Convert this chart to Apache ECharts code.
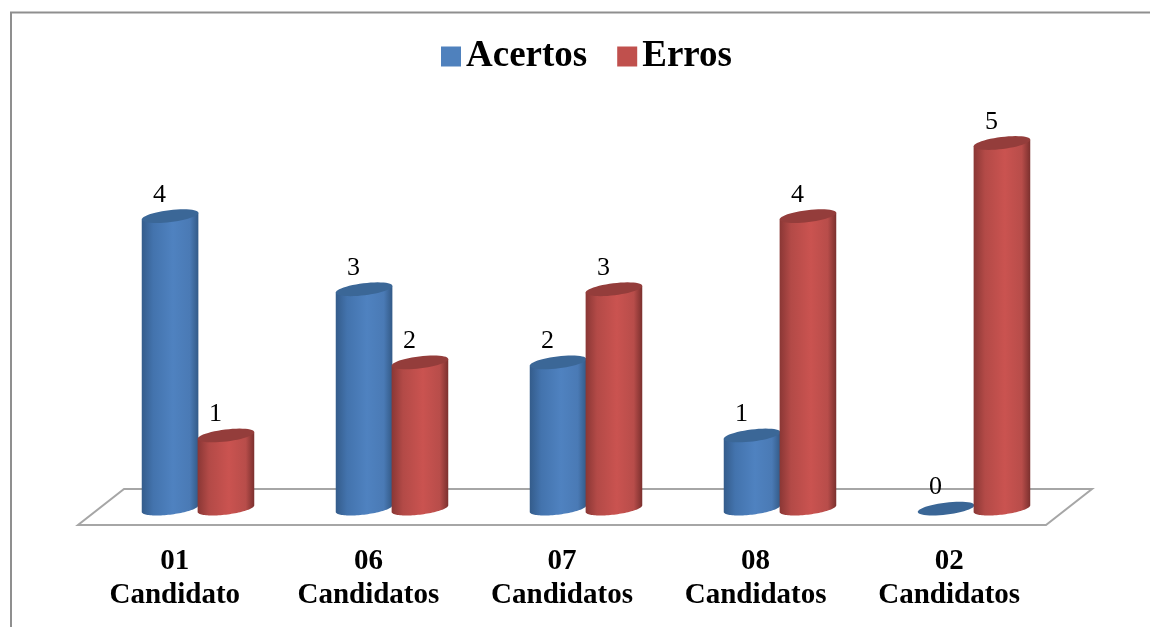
<!DOCTYPE html>
<html>
<head>
<meta charset="utf-8">
<style>html,body{margin:0;padding:0;background:#fff}#chart{width:1150px;height:627px}</style>
<script src="https://cdn.jsdelivr.net/npm/echarts@6/dist/echarts.min.js"></script>
</head>
<body>
<div id="chart"></div>
<script>
// Quiz results per group of candidates
const categories = ['01\nCandidato', '06\nCandidatos', '07\nCandidatos', '08\nCandidatos', '02\nCandidatos'];
const acertos = [4, 3, 2, 1, 0];
const erros = [1, 2, 3, 4, 5];

const SERIF = '"Liberation Serif", serif';
const FLOOR_DEPTH = [46, 36];          // horizontal and vertical shift of the back edge
const FRONT = { left: 78, right: 1046, y: 525 };
const BAR_HALF = 0.147;                // cylinder half width as a share of the band
const BAR_OFFSET = 0.144;              // cylinder centre distance from the band centre
const TILT = 7 * Math.PI / 180;        // the cap ellipses rise to the right
const MINOR_RATIO = 0.21;

const blue = {
  cap: '#3b6797', zero: '#3a6696',
  stops: ['#345c8b', '#4373ad', '#4f82c0', '#4a7ab5', '#335a87']
};
const red = {
  cap: '#943d3b',
  stops: ['#8a3735', '#b34a47', '#ca5350', '#b84d4a', '#7b302e']
};

function body(stops) {
  return new echarts.graphic.LinearGradient(0, 0, 1, 0, [
    { offset: 0, color: stops[0] },
    { offset: 0.2, color: stops[1] },
    { offset: 0.55, color: stops[2] },
    { offset: 0.85, color: stops[3] },
    { offset: 1, color: stops[4] }
  ]);
}

// Point on the tilted ellipse around (cx, cy) at parameter t
function ellipsePoint(cx, cy, a, b, t) {
  const ex = a * Math.cos(t), ey = b * Math.sin(t);
  return [cx + ex * Math.cos(TILT) + ey * Math.sin(TILT),
          cy - ex * Math.sin(TILT) + ey * Math.cos(TILT)];
}

// Angle of the ellipse's left and right silhouette points
const silhouette = a => Math.atan2(MINOR_RATIO * Math.sin(TILT), Math.cos(TILT));

function cylinder(look, side) {
  return function (params, api) {
    const band = api.size([1, 0])[0];
    const base = api.coord([api.value(0), 0]);
    const top = api.coord([api.value(0), api.value(1)]);
    const cx = base[0] + side * BAR_OFFSET * band;
    const a = BAR_HALF * band, b = a * MINOR_RATIO;
    const t0 = silhouette(a);
    const N = 48;
    const cap = [], hull = [];
    for (let i = 0; i < N; i++) {
      cap.push(ellipsePoint(cx, top[1], a, b, i / N * Math.PI * 2));
    }
    // Right silhouette of the cap, over its front edge to the left, then round the base
    hull.push(ellipsePoint(cx, top[1], a, b, t0));
    hull.push(ellipsePoint(cx, top[1], a, b, t0 + Math.PI));
    for (let i = 0; i <= N; i++) {
      hull.push(ellipsePoint(cx, base[1], a, b, t0 + Math.PI - i / N * Math.PI));
    }
    const children = [];
    if (api.value(1) > 0) {
      children.push({ type: 'polygon', shape: { points: hull }, style: { fill: body(look.stops) } });
    }
    children.push({ type: 'polygon', shape: { points: cap }, style: { fill: api.value(1) > 0 ? look.cap : (look.zero || look.cap) } });
    children.push({
      type: 'text',
      style: {
        text: String(api.value(1)), x: cx - 10.5, y: top[1] - 21,
        align: 'center', verticalAlign: 'middle',
        font: '26px ' + SERIF, fill: '#000'
      }
    });
    return { type: 'group', children };
  };
}

const chart = echarts.init(document.getElementById('chart'), null, { renderer: 'canvas' });
chart.setOption({
  animation: false,
  backgroundColor: '#fff',
  textStyle: { fontFamily: SERIF },
  legend: {
    left: 436, top: 33,
    itemWidth: 20, itemHeight: 20, itemGap: 30,
    icon: 'rect',
    textStyle: { fontFamily: SERIF, fontWeight: 'bold', fontSize: 37, color: '#000', padding: [0, 0, 0, 0] },
    data: ['Acertos', 'Erros']
  },
  graphic: [
    { // Chart area edge
      type: 'polyline', z: 0, silent: true,
      shape: { points: [[11, 627], [11, 12.5], [1150, 12.5]] },
      style: { fill: null, stroke: '#8f8f8f', lineWidth: 2 }
    },
    { // Floor of the plot
      type: 'polygon', z: 0, silent: true,
      shape: { points: [
        [FRONT.left, FRONT.y], [FRONT.right, FRONT.y],
        [FRONT.right + FLOOR_DEPTH[0], FRONT.y - FLOOR_DEPTH[1]],
        [FRONT.left + FLOOR_DEPTH[0], FRONT.y - FLOOR_DEPTH[1]]
      ] },
      style: { fill: '#fff', stroke: '#a6a6a6', lineWidth: 2 }
    }
  ],
  grid: [
    { left: 101, width: 970, top: 143, height: 365.6 },
    { left: FRONT.left, width: FRONT.right - FRONT.left, top: 143, bottom: 627 - FRONT.y }
  ],
  xAxis: [
    { type: 'category', gridIndex: 0, data: categories,
      axisLine: { show: false }, axisTick: { show: false }, axisLabel: { show: false } },
    { type: 'category', gridIndex: 1, data: categories,
      axisLine: { show: false }, axisTick: { show: false },
      axisLabel: { interval: 0, margin: 20, fontFamily: SERIF, fontWeight: 'bold', fontSize: 29, lineHeight: 34, color: '#000' } }
  ],
  yAxis: [
    { type: 'value', gridIndex: 0, min: 0, max: 5, interval: 1, show: false },
    { type: 'value', gridIndex: 1, min: 0, max: 5, interval: 1, show: false }
  ],
  series: [
    { name: 'Acertos', type: 'custom', xAxisIndex: 0, yAxisIndex: 0, clip: false,
      itemStyle: { color: '#4f81bd' }, encode: { x: 0, y: 1 },
      data: acertos.map((v, i) => [i, v]), renderItem: cylinder(blue, -1) },
    { name: 'Erros', type: 'custom', xAxisIndex: 0, yAxisIndex: 0, clip: false,
      itemStyle: { color: '#c0504d' }, encode: { x: 0, y: 1 },
      data: erros.map((v, i) => [i, v]), renderItem: cylinder(red, 1) }
  ]
});
</script>
</body>
</html>
